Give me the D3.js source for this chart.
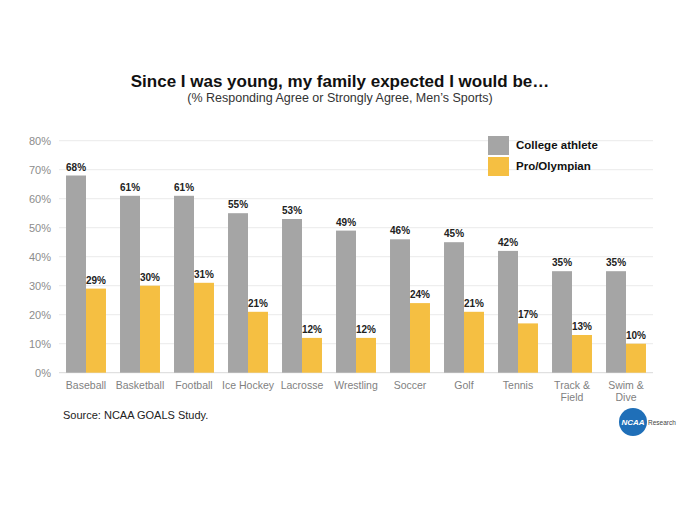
<!DOCTYPE html>
<html><head><meta charset="utf-8">
<script src="https://cdn.jsdelivr.net/npm/d3@7"></script>
<style>body{margin:0;background:#fff;}svg{display:block;font-family:"Liberation Sans",Arial,sans-serif;}</style>
</head><body>
<svg id="c" width="680" height="512"></svg>
<script>
const categories = ["Baseball","Basketball","Football","Ice Hockey","Lacrosse","Wrestling","Soccer","Golf","Tennis","Track & Field","Swim & Dive"];
const collegeAthlete = [68,61,61,55,53,49,46,45,42,35,35];
const proOlympian = [29,30,31,21,12,12,24,21,17,13,10];
const seriesNames = ["College athlete","Pro/Olympian"];
const yTicks = [0,10,20,30,40,50,60,70,80];

const colors = ["#a5a5a5","#f5bf42"];
const svg = d3.select("#c");
const pLeft = 59, pRight = 653, pTop = 140.7, pBottom = 372.7;

const x = d3.scaleBand().domain(categories).range([pLeft, pRight]).paddingInner(0.26).paddingOuter(0.13);
const xs = d3.scaleBand().domain([0,1]).range([0, x.bandwidth()]);
const y = d3.scaleLinear().domain([0,80]).range([pBottom, pTop]);

// gridlines
svg.append("g").selectAll("line").data(yTicks).join("line")
  .attr("x1", pLeft).attr("x2", pRight)
  .attr("y1", d => y(d)).attr("y2", d => y(d))
  .attr("stroke", d => d === 0 ? "#d9d9d9" : "#ebebeb").attr("stroke-width", 1);

// y axis labels
const yAxis = d3.axisLeft(y).tickValues(yTicks).tickFormat(d => d + "%").tickSize(0).tickPadding(0);
const ya = svg.append("g").attr("transform", `translate(${pLeft-8},0)`).call(yAxis);
ya.select(".domain").remove();
ya.selectAll("text").attr("fill","#8c8c8c").style("font-size","11px").style("font-family","Liberation Sans, Arial, sans-serif");

// bars
const data = categories.map((c,i) => ({c, v:[collegeAthlete[i], proOlympian[i]]}));
const g = svg.append("g").selectAll("g").data(data).join("g").attr("transform", d => `translate(${x(d.c)},0)`);
[0,1].forEach(s => {
  g.append("rect").attr("x", xs(s)).attr("width", xs.bandwidth())
    .attr("y", d => y(d.v[s])).attr("height", d => pBottom - y(d.v[s])).attr("fill", colors[s]);
  g.append("text").attr("x", xs(s) + xs.bandwidth()/2).attr("y", d => y(d.v[s]) - 5)
    .attr("text-anchor","middle").attr("font-weight","bold").attr("font-size","10px").attr("fill","#222")
    .text(d => d.v[s] + "%");
});

// x axis labels
const xl = svg.append("g").selectAll("text").data(categories).join("text")
  .attr("x", d => x(d) + x.bandwidth()/2).attr("y", 389)
  .attr("text-anchor","middle").attr("font-size","10.5px").attr("fill","#7f7f7f");
xl.each(function(d){
  const parts = d.includes(" & ") ? [d.split(" & ")[0] + " &", d.split(" & ")[1]] : [d];
  const t = d3.select(this);
  parts.forEach((p,i) => t.append("tspan").attr("x", x(d) + x.bandwidth()/2).attr("dy", i ? 12 : 0).text(p));
});

// title
svg.append("text").attr("x",340).attr("y",87).attr("text-anchor","middle").attr("font-weight","bold").attr("font-size","17px").attr("fill","#111")
  .text("Since I was young, my family expected I would be…");
svg.append("text").attr("x",340).attr("y",102).attr("text-anchor","middle").attr("font-size","12.5px").attr("fill","#333")
  .text("(% Responding Agree or Strongly Agree, Men’s Sports)");

// legend
seriesNames.forEach((n,i) => {
  svg.append("rect").attr("x",488).attr("y",136 + i*21).attr("width",21).attr("height",19).attr("fill",colors[i]);
  svg.append("text").attr("x",516).attr("y",149 + i*21).attr("font-weight","bold").attr("font-size","11.5px").attr("fill","#111").text(n);
});

// source
svg.append("text").attr("x",63).attr("y",419).attr("font-size","11px").attr("fill","#222").text("Source: NCAA GOALS Study.");

// logo
svg.append("circle").attr("cx",633).attr("cy",422).attr("r",14).attr("fill","#1f6fb8");
svg.append("text").attr("x",633).attr("y",425).attr("text-anchor","middle").attr("font-weight","bold").attr("font-style","italic").attr("font-size","8px").attr("fill","#fff").text("NCAA");
svg.append("text").attr("x",648).attr("y",425).attr("font-size","6.5px").attr("fill","#444").text("Research");
</script>
</body></html>
